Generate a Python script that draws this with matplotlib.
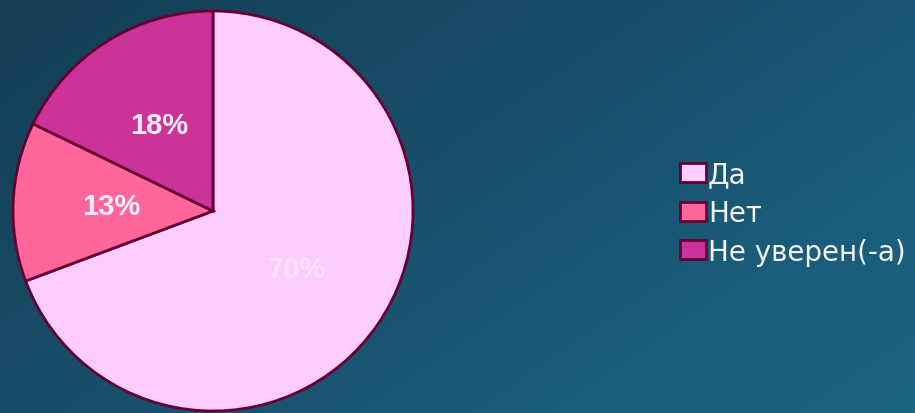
import numpy as np
import matplotlib.pyplot as plt
from matplotlib.patches import Patch

labels = ['Да', 'Нет', 'Не уверен(-а)']
values = [70, 13, 18]
colors = ['#FFCCFF', '#FF6699', '#CC3399']
edge = '#660033'

plt.rcParams['font.family'] = ['Liberation Sans', 'DejaVu Sans']

fig = plt.figure(figsize=(9.15, 4.14), dpi=100)

# background gradient (dark top-left -> lighter bottom-right)
bg = fig.add_axes([0, 0, 1, 1])
gx, gy = np.meshgrid(np.linspace(0, 1, 300), np.linspace(0, 1, 300))
t = (gx * 0.6 + gy * 0.4)
c0 = np.array([0x15, 0x3d, 0x55]) / 255
c1 = np.array([0x1c, 0x66, 0x85]) / 255
img = c0[None, None, :] * (1 - t[..., None]) + c1[None, None, :] * t[..., None]
bg.imshow(img, aspect='auto', extent=[0, 1, 0, 1], origin='upper')
bg.axis('off')

W, H = 915, 414
ax = fig.add_axes([13 / W, 2 / H, 400 / W, 400 / H])
total = sum(values)
wedges, texts, autotexts = ax.pie(
    values, colors=colors, startangle=90, counterclock=False,
    autopct=lambda p: '{:.0f}%'.format(p * total / 100), pctdistance=0.51,
    wedgeprops=dict(edgecolor=edge, linewidth=2, clip_on=False),
    textprops=dict(fontsize=21, fontweight='bold', color='#FFEEFF'))
autotexts[0].set_color('#FFE4FF')
ax.set_xlim(-1, 1)
ax.set_ylim(-1, 1)

# legend: wide glyphs in the original, so DejaVu Sans fits the width better
handles = [Patch(facecolor=c, edgecolor=edge, linewidth=2) for c in colors]
fig.legend(handles, labels, loc='center left', bbox_to_anchor=(680 / W, 1 - 214 / H),
           frameon=False, prop=dict(family='DejaVu Sans', size=20),
           labelcolor='#F2F2F2', handlelength=0.93, handleheight=0.68,
           handletextpad=0.08, labelspacing=0.38, borderpad=0, borderaxespad=0)

fig.savefig('out.png', dpi=100)
